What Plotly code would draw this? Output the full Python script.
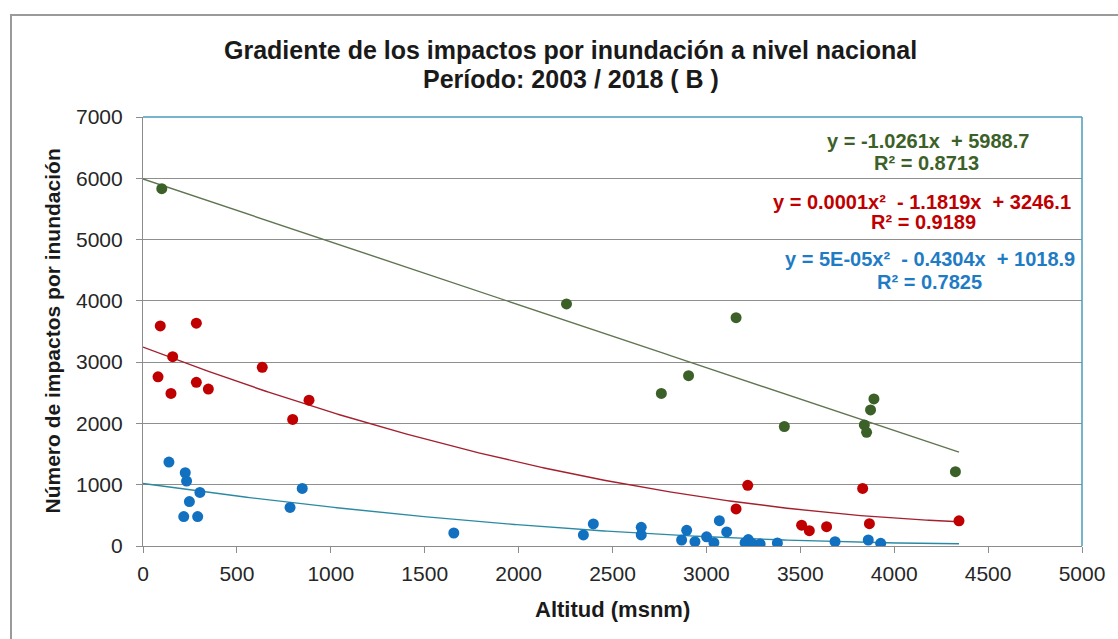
import numpy as np
import plotly.graph_objects as go

# Total de impactos (verde)
green_x = [100, 2255, 2760, 2905, 3158, 3415, 3841, 3853, 3874, 3892, 4326]
green_y = [5830, 3950, 2490, 2780, 3725, 1950, 1975, 1855, 2220, 2400, 1213]

# Viviendas afectadas (rojo)
red_x = [92, 284, 158, 80, 149, 284, 348, 635, 797, 884, 3158, 3220, 3507, 3548, 3640, 3832, 3868, 4345]
red_y = [3590, 3635, 3090, 2760, 2490, 2670, 2560, 2915, 2065, 2380, 605, 990, 340, 250, 315, 940, 365, 410]

# Personas damnificadas (azul)
blue_x = [138, 225, 232, 303, 247, 217, 291, 783, 848, 1655, 2345, 2398, 2653, 2653, 2868, 2895, 2939,
          3001, 3040, 3069, 3108, 3206, 3223, 3247, 3286, 3378, 3685, 3862, 3928]
blue_y = [1370, 1195, 1060, 875, 725, 480, 480, 630, 940, 212, 180, 360, 305, 180, 98, 255, 70,
          150, 54, 413, 230, 54, 105, 33, 33, 50, 70, 98, 44]

# Trendline coefficients (highest power first) and R²
green_coef = [-1.0261, 5988.7]
red_coef = [0.000121, -1.1819, 3246.1]
blue_coef = [0.000047, -0.4304, 1018.9]
r2_values = [0.8713, 0.9189, 0.7825]
trend_range = [0, 4345]

x_ticks = list(range(0, 5001, 500))
y_ticks = list(range(0, 7001, 1000))

FONT = "Liberation Sans, Arial, sans-serif"
C_GREEN, C_GREEN_LINE = "#3c6128", "#5f7550"
C_RED, C_RED_LINE = "#c00000", "#a3202e"
C_BLUE, C_BLUE_LINE = "#1170bf", "#2b8aa3"
C_BLUE_TXT = "#1f7cc4"
C_TEXT = "#1a1a1a"

W, H = 1118, 639
L, R, T, B = 143, 36, 117, 93

fig = go.Figure()

tx = np.linspace(trend_range[0], trend_range[1], 300)
for coef, col in [(green_coef, C_GREEN_LINE), (red_coef, C_RED_LINE), (blue_coef, C_BLUE_LINE)]:
    fig.add_trace(go.Scatter(x=tx, y=np.polyval(coef, tx), mode="lines",
                             line=dict(color=col, width=1.4), hoverinfo="skip", showlegend=False))

for xs, ys, col in [(green_x, green_y, C_GREEN), (red_x, red_y, C_RED), (blue_x, blue_y, C_BLUE)]:
    fig.add_trace(go.Scatter(x=xs, y=ys, mode="markers",
                             marker=dict(color=col, size=11, line=dict(width=0)), showlegend=False))

# Trendline equation labels
eq_green = f"y = {green_coef[0]:.4f}x  + {green_coef[1]:.1f}"
eq_red = f"y = {red_coef[0]:.4f}x²  - {abs(red_coef[1]):.4f}x  + {red_coef[2]:.1f}"
eq_blue = f"y = {blue_coef[0]:.0E}x²  - {abs(blue_coef[1]):.4f}x  + {blue_coef[2]:.1f}"

labels = [
    (eq_green, 4180, 141, C_GREEN),
    (f"R² = {r2_values[0]:.4f}", 4170, 163, C_GREEN),
    (eq_red, 4150, 202, C_RED),
    (f"R² = {r2_values[1]:.4f}", 4155, 222, C_RED),
    (eq_blue, 4190, 259, C_BLUE_TXT),
    (f"R² = {r2_values[2]:.4f}", 4190, 282, C_BLUE_TXT),
]
plot_h = H - T - B
for text, xv, ypix, col in labels:
    yv = (H - B - ypix) / plot_h * 7000
    fig.add_annotation(x=xv, y=yv, xref="x", yref="y", text=text, showarrow=False,
                       xanchor="center", yanchor="middle",
                       font=dict(family=FONT, size=20, color=col, weight="bold"))

# Title (two lines)
for text, shift in [("Gradiente de los impactos por inundación a nivel nacional", 67),
                    ("Período: 2003 / 2018 ( B )", 38)]:
    fig.add_annotation(x=0.5, y=1, xref="paper", yref="paper", xshift=-42, yshift=shift,
                       text=text, showarrow=False, xanchor="center", yanchor="middle",
                       font=dict(family=FONT, size=25, color=C_TEXT, weight="bold"))

# Axis titles
fig.add_annotation(x=0.5, y=0, xref="paper", yref="paper", yshift=-63, text="Altitud (msnm)",
                   showarrow=False, xanchor="center", yanchor="middle",
                   font=dict(family=FONT, size=22, color=C_TEXT, weight="bold"))
fig.add_annotation(x=0, y=0.5, xref="paper", yref="paper", xshift=-91,
                   text="Número de impactos por inundación", textangle=-90,
                   showarrow=False, xanchor="center", yanchor="middle",
                   font=dict(family=FONT, size=21, color=C_TEXT, weight="bold"))

# Outer chart frame and plot-area border (top/right)
pw = W - L - R
def px(xp):
    return (xp - L) / pw
def py(yp):
    return (H - B - yp) / plot_h
fig.add_shape(type="rect", xref="paper", yref="paper", x0=px(11), y0=py(660), x1=px(1140), y1=py(15),
              line=dict(color="#9a9a9a", width=2), layer="below")
fig.add_shape(type="line", xref="paper", yref="paper", x0=0, y0=1, x1=1, y1=1,
              line=dict(color="#4a9dbb", width=1.5))
fig.add_shape(type="line", xref="paper", yref="paper", x0=1, y0=0, x1=1, y1=1,
              line=dict(color="#4a9dbb", width=1.5))

fig.update_layout(
    width=W, height=H, autosize=False,
    margin=dict(l=L, r=R, t=T, b=B),
    paper_bgcolor="white", plot_bgcolor="white",
    font=dict(family=FONT, size=20, color="#262626"),
    xaxis=dict(range=[0, 5000], tickvals=x_ticks, showgrid=False, zeroline=False,
               showline=True, linecolor="#8c8c8c", linewidth=1.2, ticks="outside",
               ticklen=6, tickcolor="#8c8c8c", ticklabelstandoff=3,
               tickfont=dict(size=21, color="#262626")),
    yaxis=dict(range=[0, 7000], tickvals=y_ticks, showgrid=True, gridcolor="#8f8f8f",
               gridwidth=1.2, zeroline=False, showline=True, linecolor="#8c8c8c",
               linewidth=1.2, ticks="outside", ticklen=6, tickcolor="#8c8c8c",
               ticklabelstandoff=9, tickfont=dict(size=21, color="#262626")),
)

fig.write_html("out.html")
